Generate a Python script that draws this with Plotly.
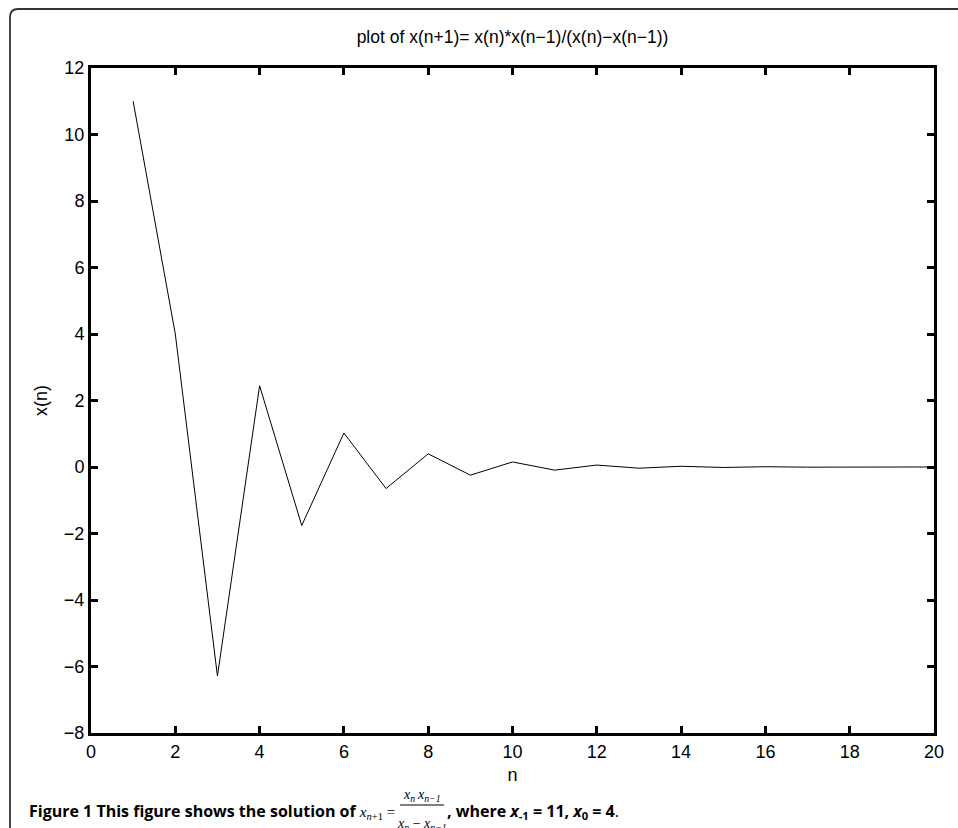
import plotly.graph_objects as go

# ---- data ----
n_vals = list(range(1, 21))
x_vals = [11, 4, -6.2857, 2.4444, -1.76, 1.0233, -0.6471, 0.3964, -0.2458, 0.1517,
          -0.0938, 0.0580, -0.0358, 0.0221, -0.0137, 0.0085, -0.0052, 0.0032, -0.0020, 0.0012]
x_ticks = list(range(0, 21, 2))
y_ticks = list(range(-8, 13, 2))
chart_title = "plot of x(n+1)= x(n)*x(n\u22121)/(x(n)\u2212x(n\u22121))"
x_label = "n"
y_label = "x(n)"

W, H = 958, 828
L, R, T, B = 91, 934, 68, 733


def px(x):
    return (x - L) / (R - L)


def py(y):
    return (B - y) / (B - T)


FONT = "Liberation Sans"
SERIF = "Liberation Serif"
CAP = "Open Sans"

fig = go.Figure(go.Scatter(x=n_vals, y=x_vals, mode="lines",
                           line=dict(color="black", width=1), hoverinfo="skip"))

axis_common = dict(showline=True, linewidth=3, linecolor="black", mirror="allticks",
                   ticks="inside", ticklen=7, tickwidth=3, tickcolor="black",
                   showgrid=False, zeroline=False,
                   tickfont=dict(family=FONT, size=18, color="black"))

fig.update_xaxes(range=[0, 20], tickvals=x_ticks,
                 title=dict(text=x_label, font=dict(family=FONT, size=18, color="black"), standoff=8),
                 **axis_common)
fig.update_yaxes(range=[-8, 12], tickvals=y_ticks,
                 title=dict(text=y_label, font=dict(family=FONT, size=18, color="black"), standoff=12),
                 **axis_common)

fig.update_layout(
    width=W, height=H,
    margin=dict(l=L, r=W - R, t=T, b=H - B, pad=0),
    paper_bgcolor="white", plot_bgcolor="white", showlegend=False,
    title=dict(text=chart_title, x=0.5, xref="paper", xanchor="center",
               y=1 - 37 / H, yref="container", yanchor="middle",
               font=dict(family=FONT, size=17.5, color="black")),
)

# frame with rounded top-left corner
r = 8
fx, fy = 10, 9
path = (f"M {px(fx)},{py(H + 5)} L {px(fx)},{py(fy + r)} "
        f"Q {px(fx)},{py(fy)} {px(fx + r)},{py(fy)} L {px(W + 5)},{py(fy)}")
fig.add_shape(type="path", path=path, xref="paper", yref="paper",
              line=dict(color="#333333", width=1.8))

# caption
cap_y = 811
serif_span = "<span style='font-family:Liberation Serif;font-size:15px;font-weight:normal'>"
fig.add_annotation(x=px(27), y=py(cap_y), xref="paper", yref="paper",
                   xanchor="left", yanchor="middle", showarrow=False,
                   text=("<b>Figure 1</b> <b>This figure shows the solution of</b> "
                         + serif_span + "<i>x</i><sub><i>n</i>+1</sub> = </span>"),
                   font=dict(family=CAP, size=16, color="black"))
frac_l, frac_r = 400, 444
fig.add_annotation(x=px((frac_l + frac_r) / 2), y=py(795), xref="paper", yref="paper",
                   xanchor="center", yanchor="middle", showarrow=False,
                   text="<i>x<sub>n</sub>\u2009x<sub>n\u22121</sub></i>",
                   font=dict(family=SERIF, size=14, color="black"))
fig.add_shape(type="line", xref="paper", yref="paper",
              x0=px(frac_l), x1=px(frac_r), y0=py(805), y1=py(805),
              line=dict(color="black", width=1))
fig.add_annotation(x=px((frac_l + frac_r) / 2), y=py(814), xref="paper", yref="paper",
                   xanchor="center", yanchor="top", showarrow=False,
                   text="<i>x<sub>n</sub></i> \u2212 <i>x<sub>n\u22121</sub></i>",
                   font=dict(family=SERIF, size=14, color="black"))
fig.add_annotation(x=px(frac_r + 1), y=py(cap_y), xref="paper", yref="paper",
                   xanchor="left", yanchor="middle", showarrow=False,
                   text="<b>, where <i>x</i><sub>-1</sub> = 11, <i>x</i><sub>0</sub> = 4</b>.",
                   font=dict(family=CAP, size=16, color="black"))

fig.write_html("out.html", config={"displayModeBar": False},
               post_script="document.body.style.margin='0';")
